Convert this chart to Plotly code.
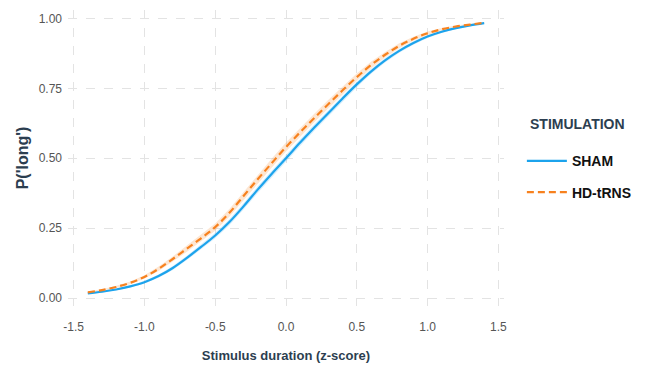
import plotly.graph_objects as go

x = [-1.4, -1.3, -1.2, -1.1, -1.0, -0.9, -0.8, -0.7, -0.6, -0.5, -0.4, -0.3, -0.2, -0.1,
     0.0, 0.1, 0.2, 0.3, 0.4, 0.5, 0.6, 0.7, 0.8, 0.9, 1.0, 1.1, 1.2, 1.3, 1.4]

sham = [0.017, 0.023, 0.031, 0.042, 0.057, 0.079, 0.108, 0.144, 0.183, 0.224, 0.272, 0.328,
        0.388, 0.445, 0.500, 0.556, 0.610, 0.662, 0.714, 0.764, 0.810, 0.850, 0.884, 0.912,
        0.935, 0.952, 0.965, 0.975, 0.983]

hdtrns = [0.021, 0.029, 0.040, 0.055, 0.076, 0.105, 0.140, 0.177, 0.214, 0.254, 0.305, 0.365,
          0.425, 0.483, 0.540, 0.593, 0.644, 0.694, 0.743, 0.790, 0.833, 0.870, 0.902, 0.927,
          0.947, 0.961, 0.971, 0.978, 0.984]

# half-width of the confidence ribbons
sham_ci = [0.002, 0.003, 0.003, 0.004, 0.005, 0.006, 0.007, 0.008, 0.009, 0.010, 0.011, 0.011,
           0.012, 0.012, 0.012, 0.012, 0.012, 0.011, 0.011, 0.010, 0.009, 0.008, 0.007, 0.006,
           0.005, 0.004, 0.003, 0.003, 0.002]
hd_ci = [0.003, 0.003, 0.004, 0.005, 0.006, 0.008, 0.009, 0.011, 0.012, 0.013, 0.014, 0.015,
         0.016, 0.016, 0.016, 0.016, 0.015, 0.015, 0.014, 0.013, 0.012, 0.010, 0.009, 0.007,
         0.006, 0.005, 0.004, 0.003, 0.003]

series = [
    ("SHAM", sham, sham_ci, "#1ca3ec", "rgba(28,163,236,0.18)", "solid"),
    ("HD-tRNS", hdtrns, hd_ci, "#f7811e", "rgba(247,129,30,0.2)", "7px,4px"),
]

fig = go.Figure()
for name, ys, ci, col, fillcol, dash in series:
    upper = [v + c for v, c in zip(ys, ci)]
    lower = [v - c for v, c in zip(ys, ci)]
    fig.add_trace(go.Scatter(
        x=x + x[::-1], y=upper + lower[::-1], fill="toself", fillcolor=fillcol,
        line=dict(width=0), hoverinfo="skip", showlegend=False, mode="lines"))
for name, ys, ci, col, fillcol, dash in series:
    fig.add_trace(go.Scatter(
        x=x, y=ys, mode="lines", name="<b>" + name + "</b>", legendgroup=name,
        line=dict(color=col, width=2.2, dash=dash, shape="spline")))

font_family = "Liberation Sans, Arial, sans-serif"
title_col = "#2c3e50"
fig.update_layout(
    width=650, height=366,
    margin=dict(l=60, r=154, t=2, b=68),
    plot_bgcolor="white", paper_bgcolor="white",
    font=dict(family=font_family, size=12, color="#555555"),
    legend=dict(
        font=dict(size=14, color="#111111", family=font_family),
        x=1.041, y=0.543, xanchor="left", yanchor="top",
        tracegroupgap=10, itemwidth=40,
    ),
    showlegend=True,
    annotations=[dict(
        text="<b>STIMULATION</b>", xref="paper", yref="paper", x=1.055, y=0.615,
        xanchor="left", yanchor="middle", showarrow=False,
        font=dict(size=14, color=title_col, family=font_family))],
)
fig.update_xaxes(
    range=[-1.54, 1.54], tickvals=[-1.5, -1.0, -0.5, 0.0, 0.5, 1.0, 1.5],
    ticktext=["-1.5", "-1.0", "-0.5", "0.0", "0.5", "1.0", "1.5"],
    showgrid=True, gridcolor="#e3e3e3", griddash="dash", gridwidth=1,
    zeroline=False, showline=False, ticks="", automargin=False, ticklabelstandoff=12,
    title=dict(text="<b>Stimulus duration (z-score)</b>", font=dict(size=13, color=title_col), standoff=17),
)
fig.update_yaxes(
    range=[-0.028, 1.03], tickvals=[0, 0.25, 0.5, 0.75, 1.0],
    ticktext=["0.00", "0.25", "0.50", "0.75", "1.00"],
    showgrid=True, gridcolor="#e3e3e3", griddash="dash", gridwidth=1,
    zeroline=False, showline=False, ticks="", automargin=False, ticklabelstandoff=5,
    title=dict(text="<b>P('long')</b>", font=dict(size=16, color=title_col), standoff=6),
)
fig.write_html("out.html")
